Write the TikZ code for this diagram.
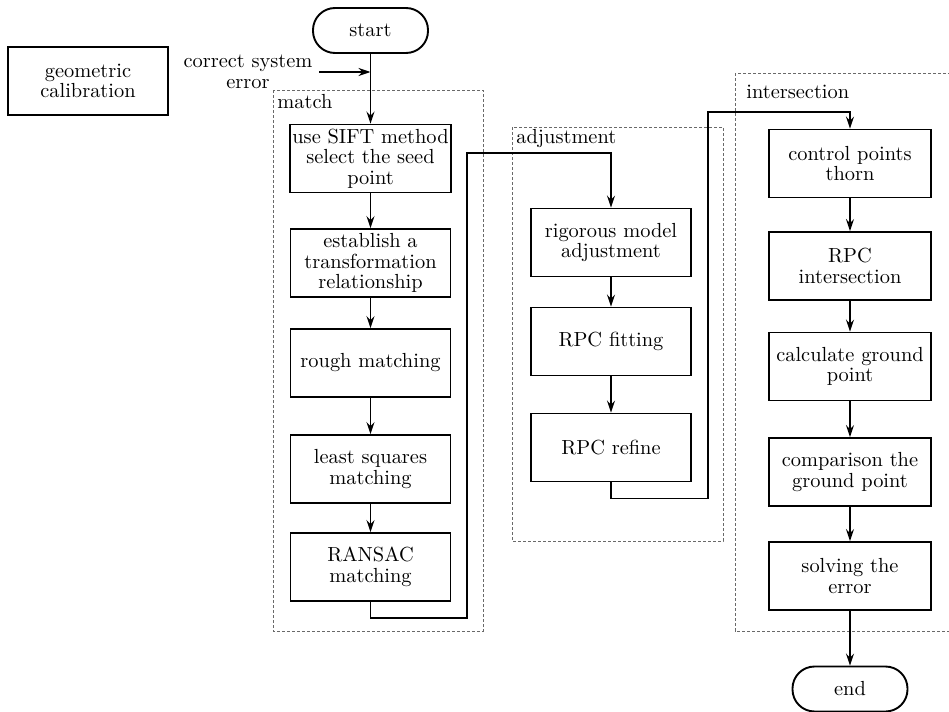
\documentclass[tikz,border=0pt]{standalone}
\usetikzlibrary{arrows.meta, positioning, calc}
\usepackage{xcolor}
\definecolor{framegray}{RGB}{105,105,105}

\begin{document}
\begin{tikzpicture}[x=0.5pt, y=-0.5pt,
    every node/.style={font=\fontsize{10.2}{10.3}\selectfont},
    box/.style={draw, line width=0.95pt, minimum width=80pt, minimum height=34pt,
      align=center, inner xsep=1pt, inner ysep=1pt},
    term/.style={draw, line width=0.95pt, rounded corners=11pt,
      minimum width=57.5pt, minimum height=22.5pt},
    group/.style={draw=framegray, dash pattern=on 1.6pt off 0.9pt, line width=0.45pt},
    grouplabel/.style={anchor=west, inner sep=0pt},
    flow/.style={line width=0.75pt, -{Stealth[length=6pt, width=4pt, inset=2pt]}}]
  \useasboundingbox (0,0) rectangle (949,712);
  % Frames
  \draw[group] (273,90) rectangle (483,631);
  \draw[group] (512,127) rectangle (723,541);
  \draw[group] (735,73) rectangle (960,631);
  \node[grouplabel] (lmatch) at (277,102) {match};
  \node[grouplabel] (ladjust) at (516,139) {adjustment};
  \node[grouplabel] (linter) at (746,92) {intersection};
  % Start and input
  \node[term] (start) at (370.5,30.5) {start};
  \node[box] (geo) at (88,81) {geometric\\calibration};
  \node[align=center, inner sep=0pt] (cse) at (248,72) {correct system\\error};
  \coordinate (csein) at (319,72);
  % Match
  \node[box] (sift) at (370.5,158.5) {use SIFT method\\select the seed\\point};
  \node[box] (trans) at (370.5,263) {establish a\\transformation\\relationship};
  \node[box] (rough) at (370.5,363) {rough matching};
  \node[box] (lsq) at (370.5,469) {least squares\\matching};
  \node[box] (ransac) at (370.5,567) {RANSAC\\matching};
  % Adjustment
  \node[box] (rigor) at (611,242.5) {rigorous model\\adjustment};
  \node[box] (fit) at (611,341.5) {RPC fitting};
  \node[box] (refine) at (611,447.5) {RPC refine};
  % Intersection
  \node[box, minimum width=81pt] (thorn) at (850,163.5) {control points\\thorn};
  \node[box, minimum width=81pt] (rpcint) at (850,266) {RPC\\intersection};
  \node[box, minimum width=81pt] (ground) at (850,366.5) {calculate ground\\point};
  \node[box, minimum width=81pt] (compare) at (850,472) {comparison the\\ground point};
  \node[box, minimum width=81pt] (solve) at (850,576) {solving the\\error};
  \node[term] (end) at (850,689) {end};
  % Connectors
  \draw[flow] (start) -- (sift);
  \draw[flow] (csein) -- (csein -| start);
  \draw[flow] (sift) -- (trans);
  \draw[flow] (trans) -- (rough);
  \draw[flow] (rough) -- (lsq);
  \draw[flow] (lsq) -- (ransac);
  \draw[flow] (ransac.south) -- ++(0,16) -| (467,153) -| (rigor.north);
  \draw[flow] (rigor) -- (fit);
  \draw[flow] (fit) -- (refine);
  \draw[flow] (refine.south) -- ++(0,16) -| (708,112) -| (thorn.north);
  \draw[flow] (thorn) -- (rpcint);
  \draw[flow] (rpcint) -- (ground);
  \draw[flow] (ground) -- (compare);
  \draw[flow] (compare) -- (solve);
  \draw[flow] (solve) -- (end);
\end{tikzpicture}
\end{document}
